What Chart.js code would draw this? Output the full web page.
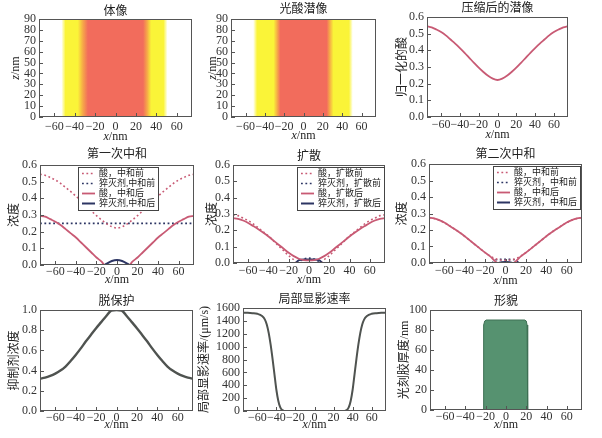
<!DOCTYPE html>
<html>
<head>
<meta charset="utf-8">
<script src="https://cdn.jsdelivr.net/npm/chart.js@4.4.1/dist/chart.umd.min.js"></script>
<style>
  html, body { margin: 0; padding: 0; background: #fff; }
  body { position: relative; width: 602px; height: 438px; overflow: hidden; }
  canvas { position: absolute; }
</style>
</head>
<body>
<canvas id="p1"></canvas><canvas id="p2"></canvas><canvas id="p3"></canvas>
<canvas id="p4"></canvas><canvas id="p5"></canvas><canvas id="p6"></canvas>
<canvas id="p7"></canvas><canvas id="p8"></canvas><canvas id="p9"></canvas>
<script>
// ---- data ----
const xTicks = [-60, -40, -20, 0, 20, 40, 60];
const zTicks = [0, 10, 20, 30, 40, 50, 60, 70, 80, 90];
const concTicks = [0, 0.1, 0.2, 0.3, 0.4, 0.5, 0.6];
const inhibTicks = [0, 0.2, 0.4, 0.6, 0.8, 1.0];
const rateTicks = [0, 200, 400, 600, 800, 1000, 1200, 1400, 1600];
const heightTicks = [0, 20, 40, 60, 80, 100];

// heat maps: relative level across x (0 white, 0.5 yellow, 1 red)
const bulkX = [-75, -53, -49, -37, -32, -27, 27, 31, 35, 47, 51, 75];
const bulkLevel = [0, 0, 0.5, 0.5, 0.75, 1, 1, 0.75, 0.5, 0.5, 0, 0];
const latentX = [-75, -52, -48, -31, -27, -24, 24, 27, 31, 47, 51, 75];
const latentLevel = [0, 0, 0.5, 0.5, 0.75, 1, 1, 0.75, 0.5, 0.5, 0, 0];

const xNm = [-75, -70, -65, -60, -55, -50, -45, -40, -35, -30, -25, -20, -15, -10, -5, 0,
             5, 10, 15, 20, 25, 30, 35, 40, 45, 50, 55, 60, 65, 70, 75];
const acidLatent = [0.545, 0.538, 0.525, 0.51, 0.49, 0.465, 0.44, 0.413, 0.385, 0.355, 0.325, 0.296, 0.27, 0.247, 0.23, 0.222,
                    0.23, 0.247, 0.27, 0.296, 0.325, 0.355, 0.385, 0.413, 0.44, 0.465, 0.49, 0.51, 0.525, 0.538, 0.545];

const quenchX = [-75, 75];
const quench = [0.25, 0.25];

const acidNeut1X = [-75, -70, -65, -60, -55, -50, -45, -40, -35, -30, -25, -20, -15, -12,
                    12, 15, 20, 25, 30, 35, 40, 45, 50, 55, 60, 65, 70, 75];
const acidNeut1 = [0.295, 0.29, 0.275, 0.26, 0.24, 0.215, 0.19, 0.165, 0.135, 0.105, 0.075, 0.045, 0.02, 0,
                   0, 0.02, 0.045, 0.075, 0.105, 0.135, 0.165, 0.19, 0.215, 0.24, 0.26, 0.275, 0.29, 0.295];
const quenchNeut1X = [-12, -10, -5, 0, 5, 10, 12];
const quenchNeut1 = [0, 0.008, 0.024, 0.03, 0.024, 0.008, 0];

const acidDiff = [0.275, 0.27, 0.26, 0.245, 0.226, 0.206, 0.185, 0.162, 0.137, 0.112, 0.087, 0.063, 0.042, 0.026, 0.018, 0.016,
                  0.018, 0.026, 0.042, 0.063, 0.087, 0.112, 0.137, 0.162, 0.185, 0.206, 0.226, 0.245, 0.26, 0.27, 0.275];
const quenchDiffX = [-13, -10, -5, 0, 5, 10, 13];
const quenchDiff = [0, 0.018, 0.022, 0.022, 0.022, 0.018, 0];

const acidNeut2X = [-75, -70, -65, -60, -55, -50, -45, -40, -35, -30, -25, -20, -15, -10, -7,
                    7, 10, 15, 20, 25, 30, 35, 40, 45, 50, 55, 60, 65, 70, 75];
const acidNeut2 = [0.275, 0.27, 0.26, 0.245, 0.226, 0.206, 0.185, 0.162, 0.137, 0.112, 0.087, 0.063, 0.04, 0.01, 0,
                   0, 0.01, 0.04, 0.063, 0.087, 0.112, 0.137, 0.162, 0.185, 0.206, 0.226, 0.245, 0.26, 0.27, 0.275];
const quenchNeut2X = [-7, -4, 0, 4, 7];
const quenchNeut2 = [0, 0.004, 0.006, 0.004, 0];

const inhibitor = [0.32, 0.33, 0.347, 0.37, 0.4, 0.44, 0.495, 0.555, 0.62, 0.69, 0.755, 0.82, 0.88, 0.94, 0.995, 1.0,
                   0.995, 0.94, 0.88, 0.82, 0.755, 0.69, 0.62, 0.555, 0.495, 0.44, 0.4, 0.37, 0.347, 0.33, 0.32];

const devX = [-75, -70, -65, -60, -55, -52, -50, -48, -46, -44, -42, -40, -38, -36, -34, -32, -30, 0,
              30, 32, 34, 36, 38, 40, 42, 44, 46, 48, 50, 52, 55, 60, 65, 70, 75];
const devRate = [1525, 1525, 1520, 1510, 1475, 1420, 1340, 1210, 1030, 810, 570, 330, 160, 60, 15, 2, 0, 0,
                 0, 2, 15, 60, 160, 330, 570, 810, 1030, 1210, 1340, 1420, 1475, 1510, 1520, 1525, 1525];

const profileX = [-75, -22.5, -22.3, -21.8, -21, -19.5, 18.5, 20, 20.8, 21.3, 21.5, 75];
const profileH = [0, 0, 70, 85, 89, 90, 90, 89, 85, 70, 0, 0];

// ---- styling ----
const FONT = "'Liberation Serif', 'Noto Sans CJK SC', serif";
const PINK = '#c85a74', NAVY = '#2c3563', GREY = '#4f5350';
const ML = 46, MT = 22, MR = 12, MB = 32;
const CMAP = [[0, [255, 255, 255]], [0.5, [250, 244, 56]], [0.75, [246, 168, 72]], [1, [242, 108, 92]]];

function levelColor(v) {
  for (let i = 1; i < CMAP.length; i++) {
    if (v <= CMAP[i][0]) {
      const [v0, c0] = CMAP[i - 1], [v1, c1] = CMAP[i];
      const t = (v - v0) / (v1 - v0);
      return 'rgb(' + c0.map((c, k) => Math.round(c + (c1[k] - c) * t)).join(',') + ')';
    }
  }
  return 'rgb(' + CMAP[CMAP.length - 1][1].join(',') + ')';
}

function heatFill(xs, levels) {
  return ctx => {
    const chart = ctx.chart, a = chart.chartArea;
    if (!a) return 'rgba(0,0,0,0)';
    const sx = chart.scales.x;
    const g = chart.ctx.createLinearGradient(a.left, 0, a.right, 0);
    xs.forEach((x, i) => {
      const t = (sx.getPixelForValue(x) - a.left) / (a.right - a.left);
      g.addColorStop(Math.min(1, Math.max(0, t)), levelColor(levels[i]));
    });
    return g;
  };
}

function heatSet(xs, levels) {
  return {
    data: [{x: -75, y: 90}, {x: 75, y: 90}],
    borderColor: 'rgba(0,0,0,0)', borderWidth: 0, pointRadius: 0,
    fill: 'origin', backgroundColor: heatFill(xs, levels)
  };
}

function line(label, xs, ys, color, dotted, width) {
  return {
    label: label,
    data: xs.map((x, i) => ({x: x, y: ys[i]})),
    borderColor: color,
    borderWidth: width || (dotted ? 1.6 : 1.8),
    borderDash: dotted ? [1.8, 2.6] : [],
    pointRadius: 0, fill: false,
    cubicInterpolationMode: 'monotone',
    order: dotted ? 1 : 0
  };
}

const minus = v => String(v).replace('-', '\u2212');
const fix1 = v => Number(v).toFixed(1);

function drawMixed(ctx, parts, cx, cy) {
  const fonts = parts.map(p => (p[1] ? 'italic ' : '') + '12px ' + FONT);
  let w = 0;
  parts.forEach((p, i) => { ctx.font = fonts[i]; w += ctx.measureText(p[0]).width; });
  let x = cx - w / 2;
  ctx.textAlign = 'left';
  parts.forEach((p, i) => { ctx.font = fonts[i]; ctx.fillText(p[0], x, cy); x += ctx.measureText(p[0]).width; });
}

// frame, inward ticks, titles and boxed legend
const panelPlugin = {
  id: 'panel',
  afterDraw(chart, args, o) {
    const {ctx, chartArea: a, scales} = chart;
    ctx.save();
    ctx.strokeStyle = '#555';
    ctx.lineWidth = 1;
    ctx.strokeRect(a.left + 0.5, a.top + 0.5, a.width - 1, a.height - 1);
    ctx.beginPath();
    scales.x.ticks.forEach((t, i) => {
      const p = Math.round(scales.x.getPixelForTick(i)) + 0.5;
      ctx.moveTo(p, a.bottom); ctx.lineTo(p, a.bottom - 4);
    });
    scales.y.ticks.forEach((t, i) => {
      const p = Math.round(scales.y.getPixelForTick(i)) + 0.5;
      ctx.moveTo(a.left, p); ctx.lineTo(a.left + 4, p);
    });
    ctx.stroke();

    ctx.fillStyle = '#222';
    ctx.textBaseline = 'middle';
    ctx.textAlign = 'center';
    ctx.font = '12px ' + FONT;
    ctx.fillText(o.title, (a.left + a.right) / 2, a.top - o.titleDy);
    drawMixed(ctx, [['x', true], ['/nm', false]], (a.left + a.right) / 2, a.bottom + o.xTitleDy);

    ctx.save();
    ctx.translate(a.left - o.yTitleDx, (a.top + a.bottom) / 2);
    ctx.rotate(-Math.PI / 2);
    drawMixed(ctx, o.yTitle, 0, 0);
    ctx.restore();

    if (o.legend) {
      const ds = chart.data.datasets;
      ctx.font = '9px ' + FONT;
      const tw = Math.max(...ds.map(d => ctx.measureText(d.label).width));
      const rh = 10, w = 4 + 13 + 4 + tw + 3, h = ds.length * rh + 3;
      const x0 = o.legend.side === 'left' ? a.left + o.legend.dx : a.right - o.legend.dx - w;
      const y0 = a.top + 2;
      ctx.fillStyle = '#fff';
      ctx.fillRect(x0, y0, w, h);
      ctx.strokeStyle = '#444';
      ctx.lineWidth = 1;
      ctx.strokeRect(Math.round(x0) + 0.5, y0 + 0.5, Math.round(w), h);
      ds.forEach((d, i) => {
        const y = y0 + 1.5 + rh * (i + 0.5);
        ctx.beginPath();
        ctx.setLineDash(d.borderDash || []);
        ctx.strokeStyle = d.borderColor;
        ctx.lineWidth = d.borderWidth;
        ctx.moveTo(x0 + 4, y); ctx.lineTo(x0 + 17, y);
        ctx.stroke();
        ctx.setLineDash([]);
        ctx.fillStyle = '#222';
        ctx.textAlign = 'left';
        ctx.fillText(d.label, x0 + 21, y + 0.5);
      });
    }
    ctx.restore();
  }
};

function panel(id, box, datasets, yMin, yMax, yTicks, yFmt, deco) {
  const [L, T, R, B] = box;
  const cv = document.getElementById(id);
  cv.width = R - L + ML + MR;
  cv.height = B - T + MT + MB;
  cv.style.left = (L - ML) + 'px';
  cv.style.top = (T - MT) + 'px';
  const tickFont = {family: FONT, size: 12};
  new Chart(cv, {
    type: 'line',
    data: {datasets: datasets},
    options: {
      responsive: false,
      animation: false,
      layout: {padding: {left: 0, top: MT, right: MR, bottom: 0}},
      plugins: {legend: {display: false}, tooltip: {enabled: false}, panel: deco},
      scales: {
        x: {
          type: 'linear', min: -75, max: 75,
          grid: {display: false, drawTicks: false}, border: {display: false},
          afterBuildTicks: s => { s.ticks = xTicks.map(v => ({value: v})); },
          afterFit: s => { s.height = MB; },
          ticks: {padding: deco.xPad, color: '#333', font: tickFont, maxRotation: 0, autoSkip: false, callback: minus}
        },
        y: {
          type: 'linear', min: yMin, max: yMax,
          grid: {display: false, drawTicks: false}, border: {display: false},
          afterBuildTicks: s => { s.ticks = yTicks.map(v => ({value: v})); },
          afterFit: s => { s.width = ML; },
          ticks: {padding: 3, color: '#333', font: tickFont, autoSkip: false, callback: yFmt}
        }
      }
    },
    plugins: [panelPlugin]
  });
}

const zTitle = [['z', true], ['/nm', false]];
const plain = v => String(v);

panel('p1', [39, 19, 192, 117], [heatSet(bulkX, bulkLevel)], 0, 90, zTicks, plain,
  {title: '体像', titleDy: 7, xPad: 3, xTitleDy: 20, yTitle: zTitle, yTitleDx: 23});

panel('p2', [231, 19, 376, 117], [heatSet(latentX, latentLevel)], 0, 90, zTicks, plain,
  {title: '光酸潜像', titleDy: 9, xPad: 3, xTitleDy: 19, yTitle: zTitle, yTitleDx: 18});

panel('p3', [427, 17, 568, 117], [line('归一化的酸', xNm, acidLatent, PINK, false)], 0, 0.6, concTicks, fix1,
  {title: '压缩后的潜像', titleDy: 8, xPad: 1, xTitleDy: 18, yTitle: [['归一化的酸', false]], yTitleDx: 24});

panel('p4', [40, 165, 194, 265], [
  line('酸，中和前', xNm, acidLatent, PINK, true),
  line('猝灭剂,中和前', quenchX, quench, NAVY, true),
  line('酸，中和后', acidNeut1X, acidNeut1, PINK, false),
  line('猝灭剂,中和后', quenchNeut1X, quenchNeut1, NAVY, false, 2)
], 0, 0.6, concTicks, fix1,
  {title: '第一次中和', titleDy: 10, xPad: 0, xTitleDy: 15, yTitle: [['浓度', false]], yTitleDx: 25,
   legend: {side: 'left', dx: 38}});

panel('p5', [233, 165, 385, 263], [
  line('酸，扩散前', acidNeut1X, acidNeut1, PINK, true),
  line('猝灭剂，扩散前', quenchNeut1X, quenchNeut1, NAVY, true),
  line('酸，扩散后', xNm, acidDiff, PINK, false),
  line('猝灭剂，扩散后', quenchDiffX, quenchDiff, NAVY, false, 2)
], 0, 0.6, concTicks, fix1,
  {title: '扩散', titleDy: 8, xPad: 1, xTitleDy: 17, yTitle: [['浓度', false]], yTitleDx: 20,
   legend: {side: 'right', dx: 1}});

panel('p6', [429, 164, 582, 263], [
  line('酸，中和前', xNm, acidDiff, PINK, true),
  line('猝灭剂，中和前', quenchDiffX, quenchDiff, NAVY, true),
  line('酸，中和后', acidNeut2X, acidNeut2, PINK, false),
  line('猝灭剂，中和后', quenchNeut2X, quenchNeut2, NAVY, false, 2)
], 0, 0.6, concTicks, fix1,
  {title: '第二次中和', titleDy: 9, xPad: 1, xTitleDy: 18, yTitle: [['浓度', false]], yTitleDx: 26,
   legend: {side: 'right', dx: 2}});

panel('p7', [40, 310, 193, 411], [line('抑制剂浓度', xNm, inhibitor, GREY, false, 2.4)], 0, 1.0, inhibTicks, fix1,
  {title: '脱保护', titleDy: 8, xPad: 0, xTitleDy: 14, yTitle: [['抑制剂浓度', false]], yTitleDx: 25});

panel('p8', [243, 308, 386, 411], [line('局部显影速率', devX, devRate, GREY, false, 2)], 0, 1600, rateTicks, plain,
  {title: '局部显影速率', titleDy: 8, xPad: 0, xTitleDy: 14, yTitle: [['局部显影速率/(μm/s)', false]], yTitleDx: 38});

panel('p9', [430, 310, 582, 410], [{
  label: '光刻胶厚度',
  data: profileX.map((x, i) => ({x: x, y: profileH[i]})),
  borderColor: 'rgb(62,112,84)', borderWidth: 1, pointRadius: 0,
  fill: 'origin', backgroundColor: 'rgb(86,146,112)', tension: 0
}], 0, 100, heightTicks, plain,
  {title: '形貌', titleDy: 8, xPad: 0, xTitleDy: 15, yTitle: [['光刻胶厚度/nm', false]], yTitleDx: 25});
</script>
</body>
</html>
